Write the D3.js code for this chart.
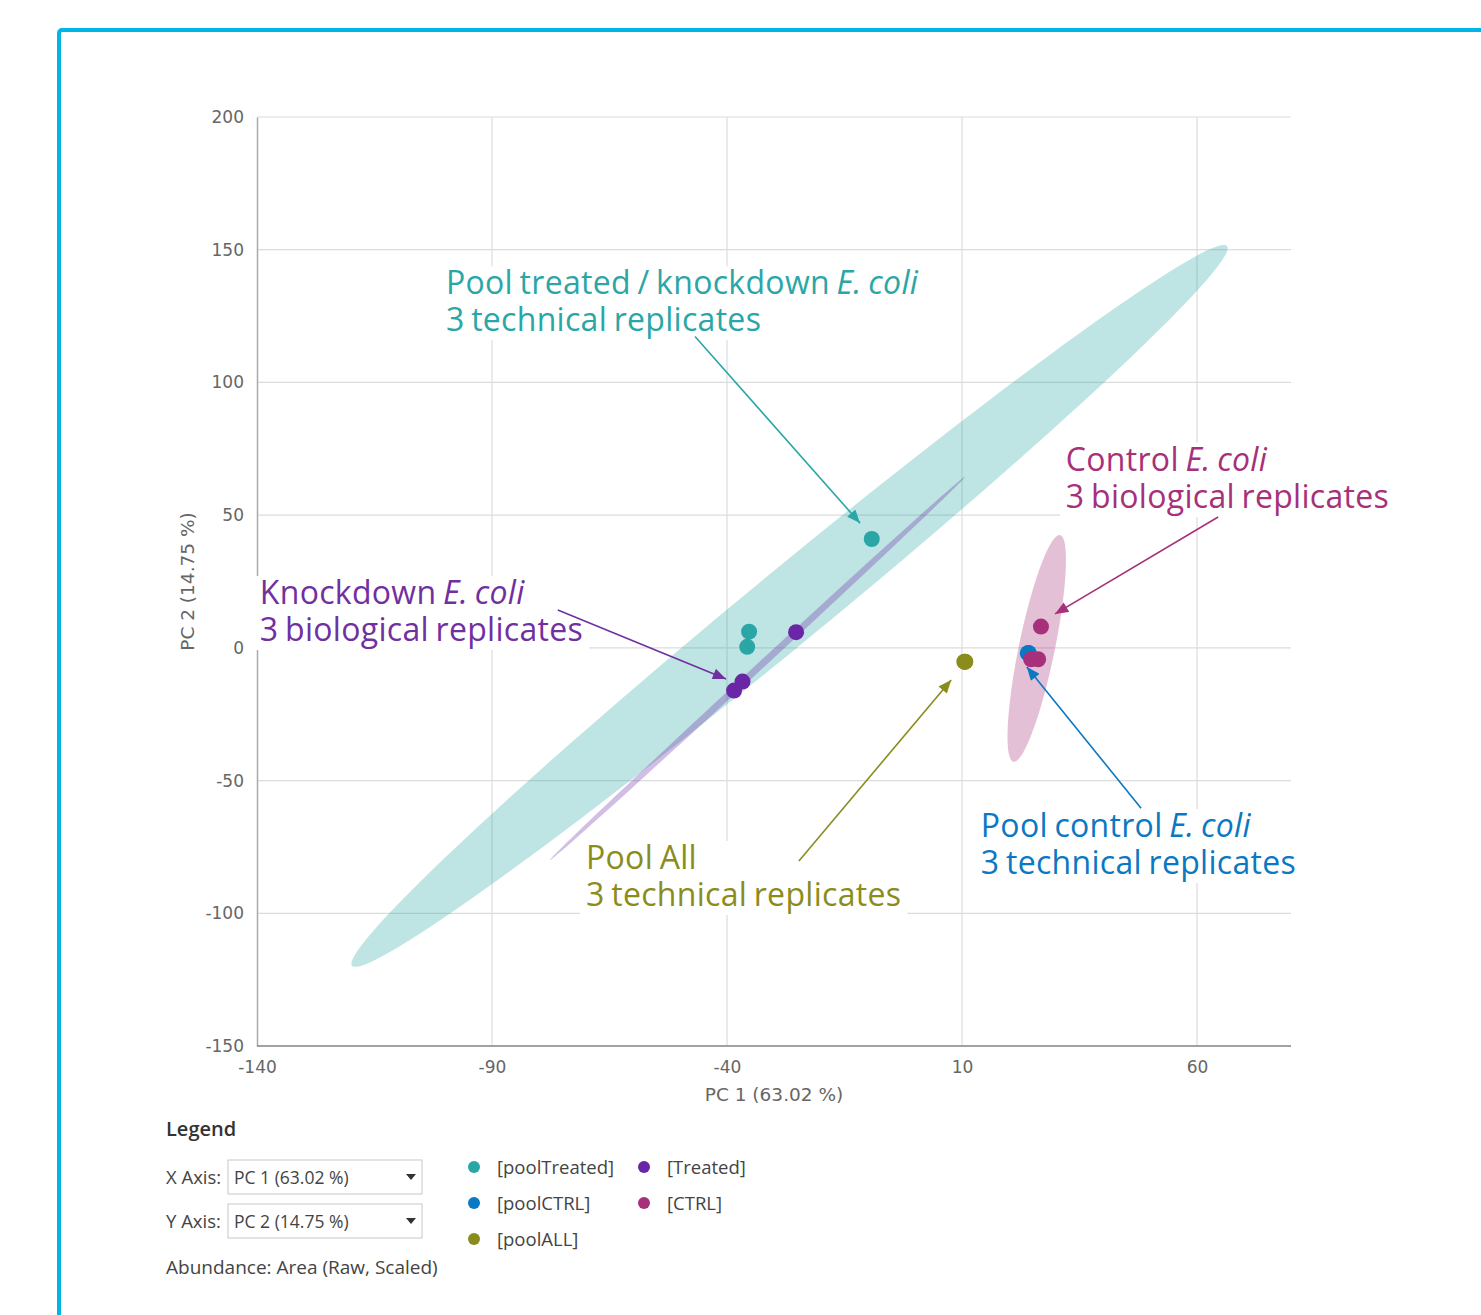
<!DOCTYPE html>
<html>
<head>
<meta charset="utf-8">
<script src="https://cdn.jsdelivr.net/npm/d3@7"></script>
<style>
  body { margin: 0; background: #fff; }
  svg { display: block; }
</style>
</head>
<body>
<div id="chart"></div>
<script>
// ---- data ----
const groupNames = ["poolTreated", "Treated", "poolCTRL", "CTRL", "poolALL"];
const groupColors = ["#2aa6a6", "#6a26a6", "#0a78c2", "#a6307a", "#8a8c1c"];

const poolTreatedPts = [[-9.2, 41.0], [-35.3, 6.1], [-35.7, 0.4]];
const treatedPts = [[-25.3, 5.9], [-36.7, -12.7], [-38.5, -16.1]];
const poolCtrlPts = [[24.0, -2.0], [24.1, -2.1], [24.2, -1.9]];
const ctrlPts = [[26.8, 8.0], [24.7, -4.3], [26.2, -4.3]];
const poolAllPts = [[10.5, -5.2], [10.6, -5.3], [10.7, -5.2]];

// confidence ellipses: centre, half major axis vector, half minor axis vector (data units)
const ellipseGroups = ["poolTreated", "Treated", "CTRL"];
const ellipseCentres = [[-26.7, 15.8], [-33.5, -7.7], [25.9, -0.2]];
const ellipseMajor = [[93.1, 135.6], [44.15, 72.2], [4.96, 42.7]];
const ellipseMinor = [[5.0, -10.8], [0.5, -0.97], [3.75, -1.36]];

const xTicks = [-140, -90, -40, 10, 60];
const yTicks = [-150, -100, -50, 0, 50, 100, 150, 200];

// annotations
const noteLines1 = [
  ["Pool treated / knockdown ", "E. coli"],
  ["Control ", "E. coli"],
  ["Knockdown ", "E. coli"],
  ["Pool All", ""],
  ["Pool control ", "E. coli"]
];
const noteLines2 = ["3 technical replicates", "3 biological replicates", "3 biological replicates",
                    "3 technical replicates", "3 technical replicates"];
const noteColors = ["#2aa6a6", "#a6307a", "#7030a0", "#8a8c1c", "#0a78c2"];
const noteAnchors = [[-99.8, 133.2], [32.1, 66.6], [-139.4, 16.5], [-70.0, -83.3], [14.0, -71.3]];
const noteArrowFrom = [[-46.8, 117.3], [64.5, 49.3], [-76.0, 14.3], [-24.7, -80.3], [48.1, -60.4]];
const noteArrowTo = [[-11.7, 47.0], [29.8, 12.8], [-40.2, -11.7], [7.7, -12.1], [23.8, -7.2]];

// ---- layout ----
const W = 1481, H = 1315;
const plot = { left: 257, right: 1291, top: 117, bottom: 1046 };

const svg = d3.select("#chart").append("svg")
  .attr("width", W).attr("height", H);

// cyan frame
svg.append("rect")
  .attr("x", 59).attr("y", 30)
  .attr("width", W).attr("height", H)
  .attr("rx", 3)
  .attr("fill", "none")
  .attr("stroke", "#00b6e8")
  .attr("stroke-width", 4);

const x = d3.scaleLinear().domain([-140, 80]).range([plot.left, plot.right]);
const y = d3.scaleLinear().domain([-150, 200]).range([plot.bottom, plot.top]);
const color = d3.scaleOrdinal().domain(groupNames).range(groupColors);

// grid
svg.append("g").selectAll("line.h")
  .data(yTicks).join("line")
  .attr("x1", plot.left).attr("x2", plot.right)
  .attr("y1", d => y(d)).attr("y2", d => y(d))
  .attr("stroke", "#dcdcdc").attr("stroke-width", 1.2);
svg.append("g").selectAll("line.v")
  .data(xTicks.slice(1)).join("line")
  .attr("x1", d => x(d)).attr("x2", d => x(d))
  .attr("y1", plot.top).attr("y2", plot.bottom)
  .attr("stroke", "#dcdcdc").attr("stroke-width", 1.2);

// axes
const fmt = d => String(d);
const yAxis = svg.append("g")
  .attr("transform", `translate(${plot.left},0)`)
  .call(d3.axisLeft(y).tickValues(yTicks).tickFormat(fmt).tickSize(0).tickPadding(13));
const xAxis = svg.append("g")
  .attr("transform", `translate(0,${plot.bottom})`)
  .call(d3.axisBottom(x).tickValues(xTicks).tickFormat(fmt).tickSize(0).tickPadding(15));
yAxis.select(".domain").attr("stroke", "#aaa").attr("stroke-width", 1.5);
xAxis.select(".domain").attr("stroke", "#888").attr("stroke-width", 1.5)
  .attr("d", `M${plot.left},0H${plot.right}`);
svg.selectAll(".tick text")
  .attr("font-family", "DejaVu Sans, Verdana, sans-serif")
  .attr("font-size", 17).attr("fill", "#666");

svg.append("text")
  .attr("x", (plot.left + plot.right) / 2).attr("y", 1101)
  .attr("text-anchor", "middle")
  .attr("font-family", "DejaVu Sans, Verdana, sans-serif")
  .attr("font-size", 18.5).attr("fill", "#666")
  .text("PC 1 (63.02 %)");
svg.append("text")
  .attr("transform", `translate(194,${(plot.top + plot.bottom) / 2}) rotate(-90)`)
  .attr("text-anchor", "middle")
  .attr("font-family", "DejaVu Sans, Verdana, sans-serif")
  .attr("font-size", 18.5).attr("fill", "#666")
  .text("PC 2 (14.75 %)");

// ellipses
function ellipsePath(i) {
  const [cx, cy] = ellipseCentres[i], [ax, ay] = ellipseMajor[i], [bx, by] = ellipseMinor[i];
  const pts = d3.range(0, 361, 3).map(a => {
    const t = a * Math.PI / 180;
    return [x(cx + ax * Math.cos(t) + bx * Math.sin(t)), y(cy + ay * Math.cos(t) + by * Math.sin(t))];
  });
  return d3.line()(pts) + "Z";
}
svg.append("g").selectAll("path")
  .data(ellipseGroups).join("path")
  .attr("d", (d, i) => ellipsePath(i))
  .attr("fill", d => color(d))
  .attr("fill-opacity", 0.3);

// points
const series = [poolTreatedPts, treatedPts, poolCtrlPts, ctrlPts, poolAllPts];
svg.append("g").selectAll("g")
  .data(series).join("g")
  .attr("fill", (d, i) => groupColors[i])
  .selectAll("circle")
  .data(d => d).join("circle")
  .attr("cx", d => x(d[0])).attr("cy", d => y(d[1]))
  .attr("r", 8);

// arrow markers
const defs = svg.append("defs");
noteColors.forEach((c, i) => {
  defs.append("marker")
    .attr("id", "arr" + i)
    .attr("viewBox", "0 0 12 10")
    .attr("refX", 12).attr("refY", 5)
    .attr("markerUnits", "userSpaceOnUse")
    .attr("markerWidth", 14).attr("markerHeight", 11)
    .attr("orient", "auto")
    .append("path").attr("d", "M0,0L12,5L0,10Z").attr("fill", c);
});

// annotations
const notes = svg.append("g");
noteLines1.forEach((l1, i) => {
  const g = notes.append("g");
  const ax = x(noteAnchors[i][0]), ay = y(noteAnchors[i][1]);
  const box = g.append("rect").attr("fill", "#fff");
  const t = g.append("text")
    .attr("font-family", "'Open Sans', 'Noto Sans', sans-serif")
    .attr("font-size", 32)
    .attr("letter-spacing", 0.3)
    .attr("word-spacing", -2)
    .attr("fill", noteColors[i]);
  const t1 = t.append("tspan").attr("x", ax).attr("y", ay);
  t1.append("tspan").text(l1[0]);
  if (l1[1]) t1.append("tspan").attr("font-style", "italic").text(l1[1]);
  t.append("tspan").attr("x", ax).attr("y", ay + 37).text(noteLines2[i]);
  const bb = t.node().getBBox();
  box.attr("x", bb.x - 6).attr("y", ay - 28)
    .attr("width", bb.width + 12).attr("height", 37 + 28 + 9);
  notes.append("line")
    .attr("x1", x(noteArrowFrom[i][0])).attr("y1", y(noteArrowFrom[i][1]))
    .attr("x2", x(noteArrowTo[i][0])).attr("y2", y(noteArrowTo[i][1]))
    .attr("stroke", noteColors[i]).attr("stroke-width", 1.6)
    .attr("marker-end", `url(#arr${i})`);
});

// ---- legend panel ----
const lg = svg.append("g")
  .attr("font-family", "'Open Sans', 'Noto Sans', sans-serif")
  .attr("fill", "#444");
lg.append("text").attr("x", 166).attr("y", 1136)
  .attr("font-size", 20).attr("font-weight", 600).attr("fill", "#333")
  .text("Legend");

const selLabels = ["X Axis:", "Y Axis:"];
const selValues = ["PC 1 (63.02 %)", "PC 2 (14.75 %)"];
selLabels.forEach((lab, i) => {
  const yy = 1160 + i * 44;
  lg.append("text").attr("x", 166).attr("y", yy + 24).attr("font-size", 18.5).text(lab);
  lg.append("rect").attr("x", 228).attr("y", yy).attr("width", 194).attr("height", 34)
    .attr("fill", "#fff").attr("stroke", "#c8c8c8");
  lg.append("text").attr("x", 234).attr("y", yy + 24).attr("font-size", 17.5).text(selValues[i]);
  lg.append("path").attr("d", `M${406},${yy + 14}h10l-5,6z`).attr("fill", "#333");
});
lg.append("text").attr("x", 166).attr("y", 1274).attr("font-size", 19)
  .text("Abundance: Area (Raw, Scaled)");

const legendOrder = ["poolTreated", "poolCTRL", "poolALL", "Treated", "CTRL"];
legendOrder.forEach((name, i) => {
  const col = i < 3 ? 0 : 1, row = i < 3 ? i : i - 3;
  const lx = 474 + col * 170, ly = 1167 + row * 36;
  lg.append("circle").attr("cx", lx).attr("cy", ly).attr("r", 6).attr("fill", color(name));
  lg.append("text").attr("x", lx + 23).attr("y", ly + 7).attr("font-size", 18.5)
    .text(`[${name}]`);
});
</script>
</body>
</html>
